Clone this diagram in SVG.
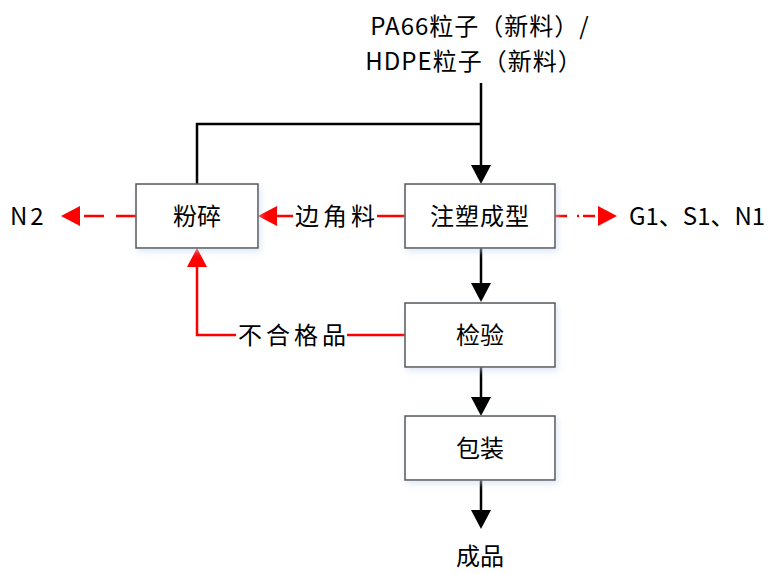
<svg xmlns="http://www.w3.org/2000/svg" width="771" height="574" viewBox="0 0 771 574">
<style>
.box{fill:#ffffff;stroke:#555555;stroke-width:1.5}
.t{font-family:"Noto Sans CJK SC","Liberation Sans",sans-serif;font-size:24px;fill:#000}
.ls{letter-spacing:4px}
.k{stroke:#000;stroke-width:2.5;fill:none}
.r{stroke:#ff0000;stroke-width:2.5;fill:none}
</style>
<defs>
<filter id="sh" x="-10%" y="-10%" width="130%" height="140%"><feDropShadow dx="2" dy="3" stdDeviation="3" flood-color="#c8d8f0" flood-opacity="0.6"/></filter>
</defs>
<g id="connectors">
<polyline class="k" points="481,83 481,166"/>
<polyline class="k" points="197,184 197,124 481,124"/>
<polygon points="471,165 491,165 481,184" fill="#000"/>
<line class="k" x1="481" y1="248" x2="481" y2="284"/>
<polygon points="471,283 491,283 481,302" fill="#000"/>
<line class="k" x1="481" y1="367" x2="481" y2="398"/>
<polygon points="471,397 491,397 481,416" fill="#000"/>
<line class="k" x1="481" y1="480" x2="481" y2="511"/>
<polygon points="471,510 491,510 481,529" fill="#000"/>
<line class="r" x1="405" y1="216" x2="377" y2="216"/>
<line class="r" x1="293" y1="216" x2="276" y2="216"/>
<polygon points="277,206 277,226 258,216" fill="#f00"/>
<line class="r" x1="136" y1="216" x2="80" y2="216" stroke-dasharray="20,12"/>
<polygon points="80,206 80,226 61,216" fill="#f00"/>
<line class="r" x1="555" y1="216" x2="598" y2="216" stroke-dasharray="12,10,2,4"/>
<polygon points="598,206 598,226 617,216" fill="#f00"/>
<polyline class="r" points="405,335 347,335"/>
<polyline class="r" points="236,335 197,335 197,266"/>
<polygon points="187,267 207,267 197,248" fill="#f00"/>
</g>
<g id="n-input"><text class="t" x="480" y="35" text-anchor="middle" letter-spacing="1">PA66粒子（新料）/</text><text class="t" x="474" y="70" text-anchor="middle" letter-spacing="1">HDPE粒子（新料）</text></g>
<g id="n-crush"><rect class="box" x="136" y="184" width="122" height="64" filter="url(#sh)"/><text class="t" x="197" y="225" text-anchor="middle">粉碎</text></g>
<g id="n-mold"><rect class="box" x="405" y="184" width="150" height="64" filter="url(#sh)"/><text class="t" x="480" y="225" text-anchor="middle" letter-spacing="1">注塑成型</text></g>
<g id="n-inspect"><rect class="box" x="405" y="303" width="150" height="64" filter="url(#sh)"/><text class="t" x="480" y="344" text-anchor="middle">检验</text></g>
<g id="n-pack"><rect class="box" x="405" y="416" width="150" height="64" filter="url(#sh)"/><text class="t" x="480" y="457" text-anchor="middle">包装</text></g>
<g id="n-product"><text class="t" x="480" y="565" text-anchor="middle">成品</text></g>
<g id="n-n2"><text class="t" x="10" y="225" letter-spacing="3">N2</text></g>
<g id="n-g1"><text class="t" x="629" y="225">G1、S1、N1</text></g>
<g id="labels"><text class="t ls" x="295" y="225">边角料</text><text class="t ls" x="238" y="344">不合格品</text></g>
</svg>
